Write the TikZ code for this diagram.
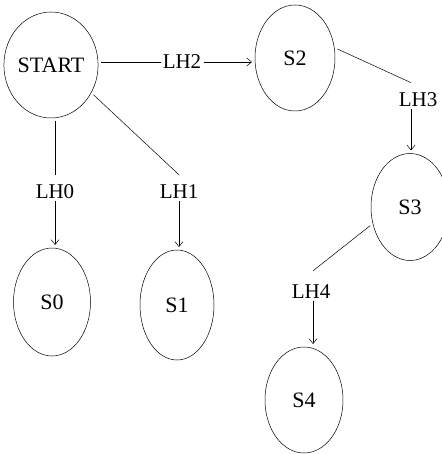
\documentclass[tikz,border=0pt]{standalone}
\usepackage{fontspec}
\setmainfont{Liberation Serif}
\usetikzlibrary{shapes.geometric,arrows.meta}

\begin{document}
\begin{tikzpicture}[x=1pt,y=-1pt,line width=.5pt,>={Straight Barb[length=5pt,width=8pt]}]

        \useasboundingbox (0,0) rectangle (441,454);

        \begin{scope}[every node/.style={ellipse,draw,inner sep=0pt,outer sep=3pt,
            font=\fontsize{22}{26}\selectfont}]
          \node[minimum width=88pt,minimum height=106pt] (start) at (51,65)  {START};
          \node[minimum width=80pt,minimum height=106pt] (s2)    at (295,58) {S2};
          \node[minimum width=78pt,minimum height=107pt] (s3)    at (410,207) {S3};
          \node[minimum width=77pt,minimum height=108pt] (s0)    at (52,302) {S0};
          \node[minimum width=74pt,minimum height=110pt] (s1)    at (177,305) {S1};
          \node[minimum width=78pt,minimum height=106pt] (s4)    at (304,400) {S4};
        \end{scope}

        \begin{scope}[every node/.style={inner sep=2pt,font=\fontsize{21}{25}\selectfont}]
          \node (lh0) at (55,192)  {LH0};
          \node (lh1) at (179,192) {LH1};
          \node (lh2) at (182,62)  {LH2};
          \node (lh3) at (418,100) {LH3};
          \node (lh4) at (311,292) {LH4};
        \end{scope}

        \draw (start.south -| lh0) -- ([yshift=8pt]lh0.north);
        \draw[->] (lh0) -- (lh0 |- s0.north);
        \draw (start.-35) -- ([yshift=8pt]lh1.north);
        \draw[->] (lh1) -- (lh1 |- s1.north);
        \draw (start.east |- lh2) -- (lh2);
        \draw[->] (lh2) -- (s2.west |- lh2);
        \draw (s2.12) -- ([xshift=-7pt,yshift=8pt]lh3.north);
        \draw[->] ([xshift=-7pt]lh3.south) -- ([xshift=-7pt]lh3.south |- s3.north);
        \draw (s3.205) -- ([xshift=2pt,yshift=12pt]lh4.north);
        \draw[->] ([xshift=2pt]lh4.south) -- ([xshift=2pt]lh4.south |- s4.north);

      \end{tikzpicture}
\end{document}
